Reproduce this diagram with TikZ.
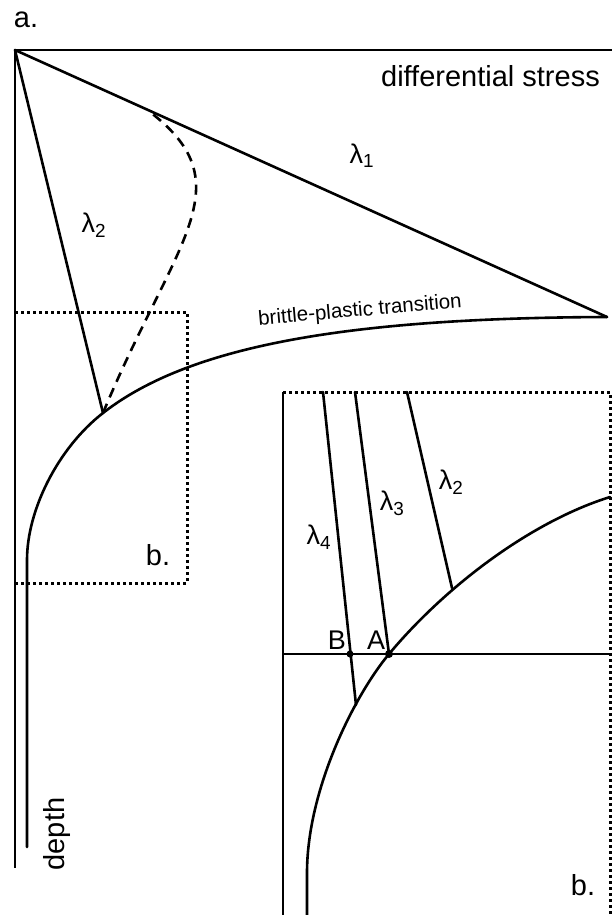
\documentclass[tikz,border=0pt]{standalone}
\usepackage{fontspec}
\setmainfont{Liberation Sans}
\usetikzlibrary{positioning}

\newcommand{\lam}[1]{λ\textsubscript{#1}}

\begin{document}
\begin{tikzpicture}[x=1pt, y=-1pt,
    curve/.style={line width=2.6pt, line cap=round},
    frame/.style={line width=3pt, dash pattern=on 2.6pt off 3.4pt},
    lbl/.style={font=\fontsize{29}{33}\selectfont, inner sep=0pt},
    lamlbl/.style={font=\fontsize{27}{31}\selectfont, inner sep=0pt}
  ]
  \useasboundingbox (0,0) rectangle (612,915);

  % Panel a: axes
  \coordinate (origin) at (15,50);
  \coordinate (stressend) at (612,50);
  \coordinate (depthend) at (15,868);
  \draw[line width=2.4pt] (stressend) -- (origin) -- (depthend);
  \node[lbl] (panela) at (26,20) {a.};
  \node[lbl, anchor=east] (stress) at (600,76) {differential stress};
  \node[lbl, rotate=90] (depth) at (57,834) {depth};

  % Brittle-plastic transition
  \coordinate (tip) at (607,317);
  \coordinate (knee) at (103,413);
  \coordinate (foot) at (27,560);
  \coordinate (bottom) at (27,847);
  \draw[curve] (bottom) -- (foot)
    .. controls (27,510) and (58,448) .. (knee)
    .. controls (190,345) and (350,318) .. (tip);
  \node[inner sep=0pt, rotate=5, font=\fontsize{20.5}{24}\selectfont]
    (bpt) at (360,311) {brittle-plastic transition};

  % Stress profiles
  \draw[curve] (origin) -- (tip);
  \draw[curve] (origin) -- (knee);
  \coordinate (dashtop) at (150,112);
  \draw[curve, line cap=butt, dash pattern=on 10pt off 7pt]
    (knee) .. controls (175,240) and (245,185) .. (dashtop);
  \node[lamlbl] (l1) at (362,156) {\lam{1}};
  \node[lamlbl] (l2) at (94,225) {\lam{2}};

  % Inset outline (left panel)
  \draw[frame] (15,312) -- (187,312) -- (187,583) -- (15,583);
  \node[lbl] (panelb) at (158,555) {b.};

  % Panel b: enlarged view
  \draw[line width=2.4pt] (283,392) -- (283,915);
  \draw[frame] (283,392) -- (610,392) -- (610,915);
  \coordinate (A) at (389,654);
  \coordinate (B) at (350,654);
  \draw[line width=2.2pt] (283,654) -- (612,654);
  \draw[curve] (307,915) -- (307,873)
    .. controls (307,790) and (354,696) .. (A)
    .. controls (445,587) and (530,522) .. (610,497);
  \draw[curve] (407,392) -- (452,588);
  \draw[curve] (355,392) -- (A);
  \draw[curve] (323,392) -- (356,705);
  \fill (A) circle[radius=4pt];
  \fill (B) circle[radius=3.5pt];
  \node[lamlbl] (labA) at (376,640) {A};
  \node[lamlbl] (labB) at (337,640) {B};
  \node[lamlbl] (i2) at (451,482) {\lam{2}};
  \node[lamlbl] (i3) at (392,503) {\lam{3}};
  \node[lamlbl] (i4) at (319,537) {\lam{4}};
  \node[lbl] (panelb2) at (583,885) {b.};
\end{tikzpicture}
\end{document}
